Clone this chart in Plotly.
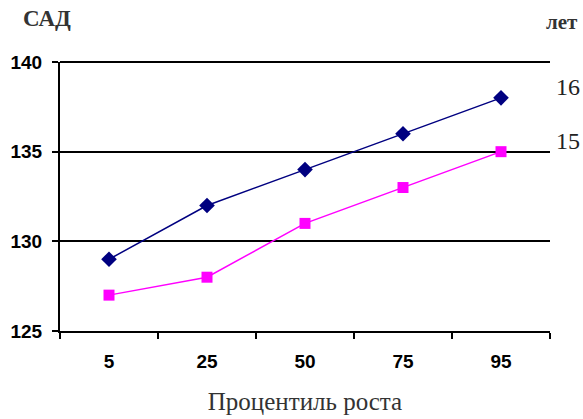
import plotly.graph_objects as go

# Percentile of height (categories) and systolic blood pressure by age
percentiles = ["5", "25", "50", "75", "95"]
sbp_16 = [129, 132, 134, 136, 138]
sbp_15 = [127, 128, 131, 133, 135]
age_labels = ["16", "15"]
y_min, y_max, y_step = 125, 140, 5

fig = go.Figure()
fig.add_trace(go.Scatter(
    x=percentiles, y=sbp_16, mode="lines+markers",
    line=dict(color="#000080", width=1.5),
    marker=dict(symbol="diamond", size=12, color="#000080"),
    showlegend=False,
))
fig.add_trace(go.Scatter(
    x=percentiles, y=sbp_15, mode="lines+markers",
    line=dict(color="#FF00FF", width=1.5),
    marker=dict(symbol="square", size=11, color="#FF00FF"),
    showlegend=False,
))

serif = "Liberation Serif, Times New Roman, serif"
sans = "Liberation Sans, Arial, sans-serif"

# Top gridline along the upper edge of the plot area
fig.add_shape(type="line", xref="paper", yref="paper", x0=0, x1=1,
              y0=1, y1=1, line=dict(color="black", width=2), layer="above")

# Age labels placed at the end of each series
for label, series in zip(age_labels, [sbp_16, sbp_15]):
    fig.add_annotation(
        x=1.0, xref="paper", xanchor="left", xshift=4,
        y=series[-1] + 0.6, yref="y", yanchor="middle",
        text=label, showarrow=False,
        font=dict(family=serif, size=24, color="#222222"),
    )

fig.add_annotation(x=0, xref="paper", xanchor="center", xshift=-13,
                   y=1.0, yref="paper", yshift=44, yanchor="middle",
                   text="<b>САД</b>", showarrow=False,
                   font=dict(family=serif, size=23, color="#333333"))
fig.add_annotation(x=1.0, xref="paper", xanchor="right", xshift=30,
                   y=1.0, yref="paper", yshift=40, yanchor="middle",
                   text="<b>лет</b>", showarrow=False,
                   font=dict(family=serif, size=21, color="#333333"))

fig.update_layout(
    width=583, height=419,
    margin=dict(l=60, r=33, t=62, b=88),
    paper_bgcolor="white", plot_bgcolor="white",
    xaxis=dict(
        type="category", range=[-0.5, 4.5], automargin=False,
        tickson="boundaries", ticks="outside", ticklen=6, tickwidth=2,
        tickcolor="black", showline=True, linecolor="black", linewidth=2,
        showgrid=False, ticklabelstandoff=12,
        tickfont=dict(family=sans, size=19, color="black", weight="bold"),
        title=dict(text="Процентиль роста", standoff=22,
                   font=dict(family=serif, size=25, color="#333333")),
    ),
    yaxis=dict(
        range=[y_min, y_max], dtick=y_step, tick0=y_min, automargin=False,
        ticks="outside", ticklen=6, tickwidth=2, tickcolor="black",
        showline=True, linecolor="black", linewidth=2,
        showgrid=True, gridcolor="black", gridwidth=1.5,
        zeroline=False, ticklabelstandoff=6,
        tickfont=dict(family=sans, size=19, color="black", weight="bold"),
    ),
)

fig.write_html("out.html")
